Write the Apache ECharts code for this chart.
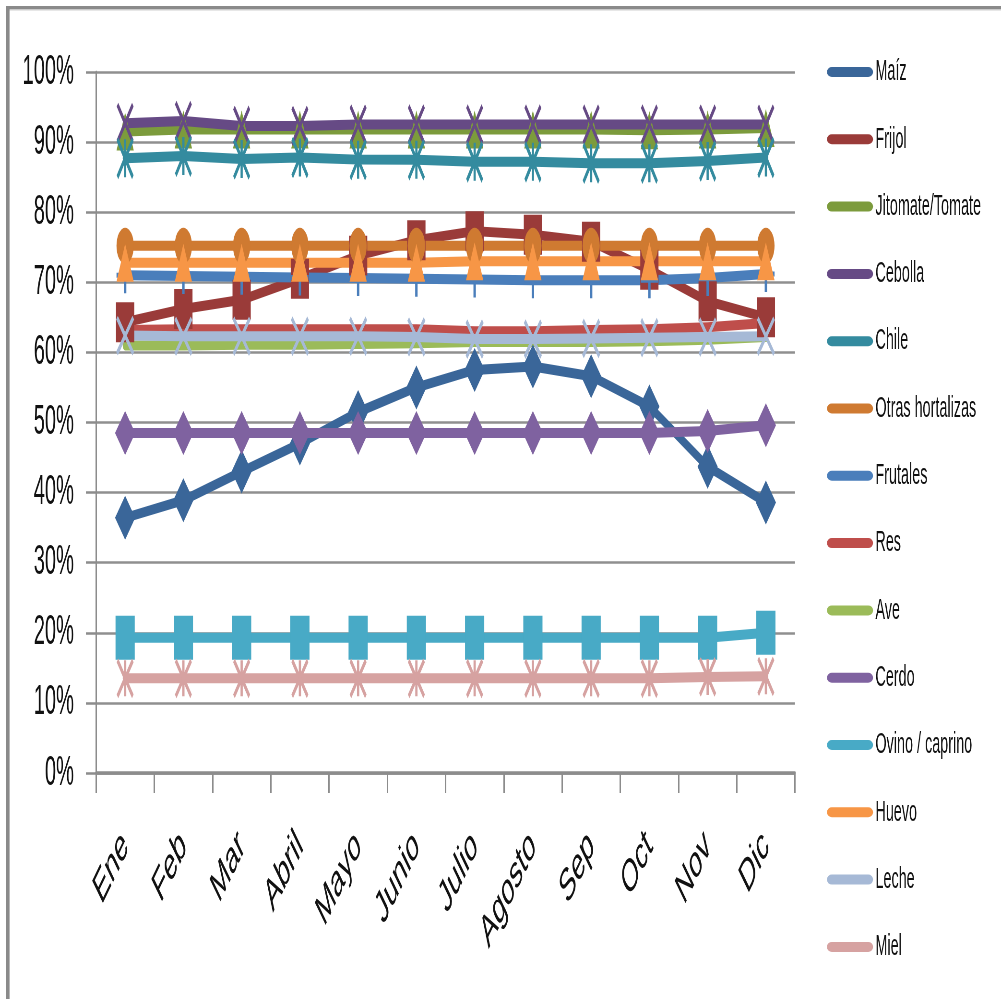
<!DOCTYPE html>
<html><head><meta charset="utf-8">
<script src="https://cdn.jsdelivr.net/npm/echarts@6/dist/echarts.min.js"></script>
<style>
html,body{margin:0;padding:0;overflow:hidden;background:#fff;width:1001px;height:999px;}
#chart{position:absolute;left:0;top:0;height:999px;transform-origin:0 0;}
</style></head><body><div id="chart"></div>
<script>
// ---- data (percent) ----
const months = ['Ene','Feb','Mar','Abril','Mayo','Junio','Julio','Agosto','Sep','Oct','Nov','Dic'];
const maiz      = [36.4, 38.9, 43.0, 47.0, 51.5, 55.0, 57.5, 58.0, 56.6, 52.3, 43.7, 38.6];
const frijol    = [64.3, 66.2, 67.5, 70.5, 73.8, 76.0, 77.3, 76.8, 75.8, 71.8, 67.3, 65.0];
const jitomate  = [91.5, 91.8, 91.8, 91.8, 91.8, 91.8, 91.8, 91.8, 91.8, 91.7, 91.8, 92.0];
const cebolla   = [92.7, 93.0, 92.3, 92.3, 92.5, 92.5, 92.5, 92.5, 92.5, 92.5, 92.5, 92.5];
const chile     = [87.7, 88.0, 87.6, 87.8, 87.5, 87.5, 87.2, 87.2, 87.0, 87.0, 87.3, 87.8];
const otras     = [75.2, 75.2, 75.2, 75.2, 75.2, 75.2, 75.2, 75.2, 75.2, 75.2, 75.2, 75.2];
const frutales  = [71.0, 70.9, 70.8, 70.7, 70.6, 70.5, 70.4, 70.3, 70.3, 70.3, 70.6, 71.2];
const res       = [63.2, 63.3, 63.3, 63.3, 63.3, 63.3, 63.0, 63.0, 63.2, 63.3, 63.6, 64.2];
const ave       = [61.0, 61.0, 61.1, 61.1, 61.2, 61.3, 61.5, 61.5, 61.5, 61.6, 61.8, 62.2];
const cerdo     = [48.5, 48.5, 48.5, 48.5, 48.5, 48.5, 48.5, 48.5, 48.5, 48.5, 48.8, 49.6];
const ovino     = [19.3, 19.3, 19.3, 19.3, 19.3, 19.3, 19.3, 19.3, 19.3, 19.3, 19.3, 20.0];
const huevo     = [72.8, 72.8, 72.8, 72.8, 72.8, 72.8, 73.0, 73.0, 73.0, 73.0, 73.0, 73.0];
const leche     = [62.4, 62.3, 62.3, 62.3, 62.3, 62.2, 61.9, 61.9, 62.0, 62.1, 62.2, 62.3];
const miel      = [13.5, 13.5, 13.5, 13.5, 13.5, 13.5, 13.5, 13.5, 13.5, 13.5, 13.7, 13.8];

// ---- horizontal squash (chart drawn wide, then compressed like the reference) ----
const W = 2086;
const sx = 1001 / W;
const el = document.getElementById('chart');
el.style.width = W + 'px';
el.style.transform = 'scaleX(' + sx + ')';
const X = v => v / sx;

const X_PATH = 'path://M0 0L100 100M100 0L0 100';
const STAR_PATH = 'path://M0 0L100 100M100 0L0 100M50 0L50 100';
const PLUS_PATH = 'path://M50 0L50 100M0 50L100 50';
const CAPSULE = 'path://M10 0H86A10 5 0 0 1 86 10H10A10 5 0 0 1 10 0Z';
const FONT = 'Liberation Sans, Arial, sans-serif';

function mk(name, data, color, symbol, size, stroke) {
  return {
    name, type: 'line', data,
    symbol: symbol || 'none',
    symbolSize: size || 0,
    showAllSymbol: true,
    lineStyle: { color, width: 10, cap: 'round', join: 'round' },
    itemStyle: stroke ? { color, borderColor: color, borderWidth: stroke } : { color, borderWidth: 0 },
    emphasis: { disabled: true },
    z: 2
  };
}

const series = [
  mk('Maíz', maiz, '#3A6699', 'diamond', [42, 44]),
  mk('Frijol', frijol, '#9A3B39', 'rect', [38, 40]),
  mk('Jitomate/Tomate', jitomate, '#7C9B3C', 'triangle', [36, 38]),
  mk('Cebolla', cebolla, '#664A85', X_PATH, [32, 37], 5),
  mk('Chile', chile, '#348B9F', STAR_PATH, [32, 38], 5),
  mk('Otras hortalizas', otras, '#CF7A31', 'circle', 36),
  mk('Frutales', frutales, '#4A7EBB', PLUS_PATH, [36, 36], 5),
  mk('Res', res, '#BF4E4B', 'none'),
  mk('Ave', ave, '#9BBB59', 'none'),
  mk('Cerdo', cerdo, '#7F62A0', 'diamond', [42, 44]),
  mk('Ovino / caprino', ovino, '#48AAC6', 'rect', [40, 44]),
  mk('Huevo', huevo, '#F79646', 'triangle', [36, 38]),
  mk('Leche', leche, '#A6B9D6', X_PATH, [34, 36], 5),
  mk('Miel', miel, '#D6A2A1', STAR_PATH, [32, 36], 5)
];

const chart = echarts.init(el, null, { renderer: 'canvas' });
chart.setOption({
  animation: false,
  backgroundColor: '#fff',
  grid: { left: X(96), right: W - X(795), top: 72, bottom: 999 - 773, containLabel: false },
  xAxis: {
    type: 'category', data: months, boundaryGap: true,
    axisLine: { show: true, lineStyle: { color: '#8c8c8c', width: 3.5 } },
    axisTick: { show: true, length: 20, lineStyle: { color: '#8c8c8c', width: 3 } },
    axisLabel: { interval: 0, rotate: 45, margin: 66, fontSize: 46, color: '#111', fontFamily: FONT },
    splitLine: { show: false }
  },
  yAxis: {
    type: 'value', min: 0, max: 100, interval: 10,
    axisLine: { show: true, lineStyle: { color: '#8c8c8c', width: 3 } },
    axisTick: { show: true, length: 21, lineStyle: { color: '#8c8c8c', width: 2.5 } },
    axisLabel: { formatter: '{value}%', fontSize: 42, color: '#111', margin: X(22), fontFamily: FONT },
    splitLine: { show: true, lineStyle: { color: '#8f8f8f', width: 2.5 } }
  },
  legend: {
    orient: 'vertical', left: X(827), top: 57, padding: 0,
    itemWidth: X(46), itemHeight: 10, itemGap: 37.3,
    icon: CAPSULE, selectedMode: false,
    itemStyle: { borderWidth: 0 },
    textStyle: { fontSize: 30, lineHeight: 30, color: '#111', fontFamily: FONT },
    data: series.map(s => s.name)
  },
  graphic: [
    { type: 'rect', shape: { x: X(7), y: 6, width: W, height: 3.5 }, style: { fill: '#8a8a8a' }, z: 10 },
    { type: 'rect', shape: { x: X(7), y: 9.5, width: W, height: 1 }, style: { fill: '#cfcfcf' }, z: 10 },
    { type: 'rect', shape: { x: X(6), y: 6, width: X(3.5), height: 1000 }, style: { fill: '#8a8a8a' }, z: 10 }
  ],
  series
});
</script></body></html>
